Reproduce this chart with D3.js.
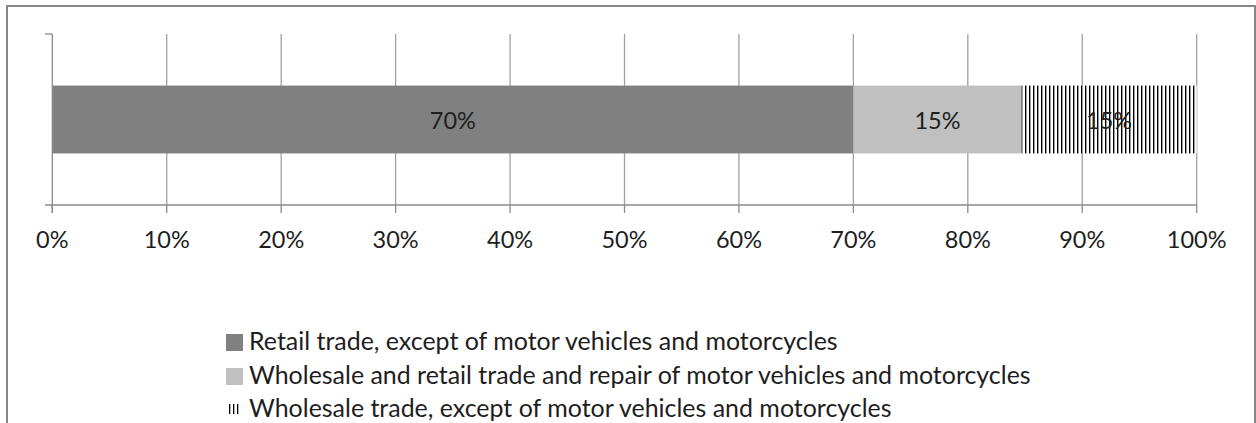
<!DOCTYPE html>
<html><head><meta charset="utf-8">
<script src="https://cdn.jsdelivr.net/npm/d3@7"></script>
<style>body{margin:0;background:#fff}svg{display:block}</style>
</head><body>
<svg id="c" width="1256" height="423"></svg>
<script>
const categories = ["Enterprises"];
const seriesNames = [
  "Retail trade, except of motor vehicles and motorcycles",
  "Wholesale and retail trade and repair of motor vehicles and motorcycles",
  "Wholesale trade, except of motor vehicles and motorcycles"
];
const seriesValues = [70.0, 14.7, 15.3];
const seriesLabels = ["70%", "15%", "15%"];
const tickValues = [0, 10, 20, 30, 40, 50, 60, 70, 80, 90, 100];
const tickLabels = ["0%","10%","20%","30%","40%","50%","60%","70%","80%","90%","100%"];

const FONT = "Lato, 'Open Sans', sans-serif";
const TXT = "#1e1e1e";
const svg = d3.select("#c");
const defs = svg.append("defs");
const pat = defs.append("pattern").attr("id","hatch").attr("patternUnits","userSpaceOnUse")
  .attr("width",4).attr("height",4).attr("x",1).attr("y",0);
pat.append("rect").attr("width",4).attr("height",4).attr("fill","#fff");
pat.append("rect").attr("x",0).attr("width",1.4).attr("height",4).attr("fill","#000");

// frame
svg.append("rect").attr("x",7).attr("y",6).attr("width",1248).attr("height",430)
  .attr("fill","none").attr("stroke","#878787").attr("stroke-width",2);

const x = d3.scaleLinear().domain([0,100]).range([52.3,1196.7]);
const y = d3.scaleBand().domain(categories).range([34,205]).paddingInner(0).paddingOuter(0.76);

// gridlines
svg.append("g").selectAll("line").data(tickValues.slice(1)).join("line")
  .attr("x1",d=>x(d)).attr("x2",d=>x(d)).attr("y1",34).attr("y2",205)
  .attr("stroke","#a0a0a0").attr("stroke-width",1.3);

// stacked bars
const fills = ["#808080","#c0c0c0","url(#hatch)"];
const stacked = [];
let acc = 0;
seriesValues.forEach((v,i)=>{ stacked.push({i, x0:acc, x1:acc+v, v}); acc+=v; });
const bars = svg.append("g");
categories.forEach(cat=>{
  bars.selectAll("rect.s").data(stacked).join("rect").attr("class","s")
    .attr("x",d=>x(d.x0)).attr("width",d=>x(d.x1)-x(d.x0))
    .attr("y",y(cat)).attr("height",y.bandwidth())
    .attr("fill",(d)=>fills[d.i]);
  bars.selectAll("text.l").data(stacked).join("text").attr("class","l")
    .attr("x",d=>(x(d.x0)+x(d.x1))/2).attr("y",y(cat)+y.bandwidth()/2+9)
    .attr("text-anchor","middle").attr("font-family",FONT).attr("font-size",23.5)
    .attr("fill",TXT).text((d)=>seriesLabels[d.i]);
});

// axes
const ax = svg.append("g").attr("stroke","#8a8a8a").attr("stroke-width",1.3);
ax.append("line").attr("x1",45).attr("x2",x(100)).attr("y1",205).attr("y2",205);
ax.append("line").attr("x1",x(0)).attr("x2",x(0)).attr("y1",34).attr("y2",213);
ax.append("line").attr("x1",45).attr("x2",x(0)).attr("y1",34).attr("y2",34);
ax.selectAll("line.t").data(tickValues).join("line").attr("class","t")
  .attr("x1",d=>x(d)).attr("x2",d=>x(d)).attr("y1",205).attr("y2",213);

svg.append("g").selectAll("text").data(tickValues).join("text")
  .attr("x",d=>x(d)).attr("y",248).attr("text-anchor","middle")
  .attr("font-family",FONT).attr("font-size",23.5).attr("fill",TXT)
  .text((d,i)=>tickLabels[i]);

// legend
const lg = svg.append("g");
const rowBase = [350, 384, 417];
const texts = [];
seriesNames.forEach((n,i)=>{
  if(i<2){
    lg.append("rect").attr("x",226).attr("y",rowBase[i]-16).attr("width",17).attr("height",17).attr("fill",fills[i]);
  } else {
    [0,1,2].forEach(k=>lg.append("rect").attr("x",229+k*4).attr("y",rowBase[i]-13).attr("width",1.3).attr("height",10).attr("fill","#000"));
  }
  texts.push(lg.append("text").attr("x",249).attr("y",rowBase[i])
    .attr("font-family",FONT).attr("font-size",24).attr("fill",TXT).text(n));
});
const w0 = texts[0].node().getComputedTextLength();
const fs = 24 * 589 / w0;
texts.forEach(t=>t.attr("font-size", Math.min(fs, 25.5)));
</script>
</body></html>
